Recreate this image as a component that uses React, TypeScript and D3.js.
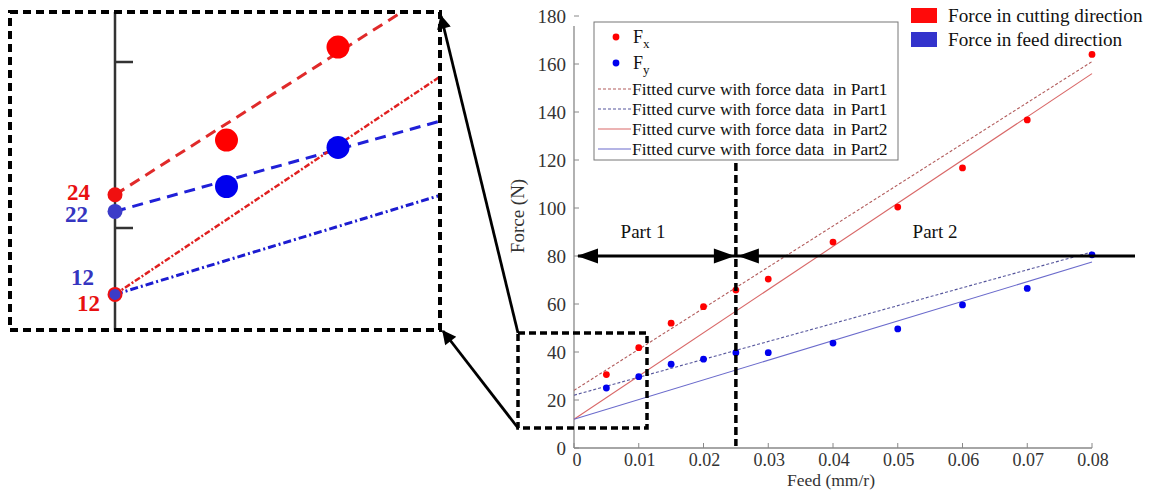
import React from 'react';
import * as d3 from 'd3';

// measured forces
const feed = [0.005, 0.01, 0.015, 0.02, 0.025, 0.03, 0.04, 0.05, 0.06, 0.07, 0.08];
const forceX = [30.6, 41.8, 52, 58.9, 65.8, 70.4, 85.8, 100.4, 116.7, 136.7, 164];
const forceY = [25, 29.7, 34.9, 37, 39.7, 39.7, 43.7, 49.6, 59.6, 66.5, 80.5];

// fitted lines (end points)
const fitFeed = [0, 0.08];
const fitFxPart1 = [24, 161];
const fitFyPart1 = [22, 81.7];
const fitFxPart2 = [12, 156];
const fitFyPart2 = [12, 77.5];

const xTicks = [0, 0.01, 0.02, 0.03, 0.04, 0.05, 0.06, 0.07, 0.08];
const yTicks = [0, 20, 40, 60, 80, 100, 120, 140, 160, 180];
const insetTicks = [20, 40];
const partSplit = 0.025;
const partLevel = 80;

const interceptValues = [24, 22, 12];
const interceptLabels = ['24', '22', '12', '12'];

const legendLabels = [
  'Fitted curve with force data  in Part1',
  'Fitted curve with force data  in Part1',
  'Fitted curve with force data  in Part2',
  'Fitted curve with force data  in Part2',
];
const cornerLegend = ['Force in cutting direction', 'Force in feed direction'];

const FONT = '"Liberation Serif", "Times New Roman", serif';
const RED = '#ff0000';
const BLUE = '#0000ee';

const x = d3.scaleLinear().domain([0, 0.08]).range([574, 1092]);
const y = d3.scaleLinear().domain([0, 180]).range([448, 16]);

// magnified view
const xi = d3.scaleLinear().domain([0, 0.01]).range([115, 338]);
const yi = d3.scaleLinear().domain([20, 40]).range([228, 62]);

const fitLine = (vals: number[], sx: any, sy: any) =>
  d3.line<number>().x((d) => sx(d)).y((d, i) => sy(vals[i]))(fitFeed) || '';

const mainFits = [
  { vals: fitFxPart1, color: '#b25c5c', dash: '3,2' },
  { vals: fitFyPart1, color: '#55559c', dash: '3,2' },
  { vals: fitFxPart2, color: '#d96868', dash: null },
  { vals: fitFyPart2, color: '#6b6bcc', dash: null },
];

const insetFits = [
  { vals: fitFxPart1, color: '#e02a2a', dash: '11,7', w: 3 },
  { vals: fitFyPart1, color: '#2020d8', dash: '11,7', w: 3 },
  { vals: fitFxPart2, color: '#e02020', dash: '6,2,2,2', w: 2.5 },
  { vals: fitFyPart2, color: '#1c1cd0', dash: '8,3,2,3', w: 3 },
];

const box = { x0: 10, y0: 12, x1: 440, y1: 330 };

export default function App() {
  const arrowY = y(partLevel);
  const splitX = x(partSplit);
  const tri = (tipX: number, dir: number) =>
    `M${tipX},${arrowY} L${tipX - dir * 21},${arrowY - 7.5} L${tipX - dir * 21},${arrowY + 7.5} Z`;

  return (
    <svg width={1150} height={492} style={{ position: 'absolute', left: 0, top: 0, background: '#fff' }}
      fontFamily={FONT}>
      <defs>
        <clipPath id="insetClip">
          <rect x={box.x0} y={box.y0} width={box.x1 - box.x0} height={box.y1 - box.y0} />
        </clipPath>
        <marker id="ah" viewBox="0 0 10 10" refX="9" refY="5" markerWidth="6" markerHeight="5"
          markerUnits="strokeWidth" orient="auto">
          <path d="M0,0 L10,5 L0,10 Z" fill="#000" />
        </marker>
      </defs>

      {/* axes */}
      <line x1={x(0)} x2={x(0)} y1={26} y2={y(0)} stroke="#888" strokeWidth={1.3} />
      <line x1={x(0)} x2={x(0.08)} y1={y(0)} y2={y(0)} stroke="#888" strokeWidth={1.3} />
      {yTicks.map((t) => (
        <g key={'y' + t}>
          <line x1={x(0)} x2={x(0) + 5} y1={y(t)} y2={y(t)} stroke="#888" strokeWidth={1} />
          <text x={x(0) - 8} y={y(t)} dy="0.35em" textAnchor="end" fontSize={19} fill="#333">{t}</text>
        </g>
      ))}
      {xTicks.map((t) => (
        <g key={'x' + t}>
          <line x1={x(t)} x2={x(t)} y1={y(0)} y2={y(0) - 5} stroke="#888" strokeWidth={1} />
          <text x={x(t) + (t === 0 ? 3 : 1)} y={466} textAnchor="middle" fontSize={18} fill="#333">{t === 0 ? '0' : t.toFixed(2)}</text>
        </g>
      ))}
      <text x={831} y={486} textAnchor="middle" fontSize={17.5} fill="#333">Feed (mm/r)</text>
      <text transform="translate(524,216) rotate(-90)" textAnchor="middle" fontSize={19} fill="#333">Force (N)</text>

      {/* fitted curves */}
      {mainFits.map((f, i) => (
        <path key={'f' + i} d={fitLine(f.vals, x, y)} fill="none" stroke={f.color} strokeWidth={1.1}
          strokeDasharray={f.dash || undefined} />
      ))}

      {/* data */}
      {feed.map((f, i) => (
        <circle key={'px' + i} cx={x(f)} cy={y(forceX[i])} r={3.4} fill={RED} />
      ))}
      {feed.map((f, i) => (
        <circle key={'py' + i} cx={x(f)} cy={y(forceY[i])} r={3.4} fill={BLUE} />
      ))}

      {/* part divider */}
      <line x1={splitX} x2={splitX} y1={163} y2={446} stroke="#000" strokeWidth={3.5} strokeDasharray="8,4" />
      <line x1={578} x2={1135} y1={arrowY} y2={arrowY} stroke="#000" strokeWidth={3} />
      <path d={tri(577, -1)} fill="#000" />
      <path d={tri(splitX - 1, 1)} fill="#000" />
      <path d={tri(splitX + 2, -1)} fill="#000" />
      <text x={643} y={238} textAnchor="middle" fontSize={19} fill="#111">Part 1</text>
      <text x={935} y={238} textAnchor="middle" fontSize={19} fill="#111">Part 2</text>

      {/* legend */}
      <rect x={594} y={22} width={304} height={138} fill="#fff" stroke="#777" strokeWidth={1} />
      <circle cx={616} cy={37} r={3.4} fill={RED} />
      <text x={633} y={43} fontSize={18} fill="#111">F<tspan fontSize={13} dy={5}>x</tspan></text>
      <circle cx={616} cy={63} r={3.4} fill={BLUE} />
      <text x={633} y={69} fontSize={18} fill="#111">F<tspan fontSize={13} dy={5}>y</tspan></text>
      {legendLabels.map((l, i) => (
        <g key={'l' + i}>
          <line x1={598} x2={631} y1={89 + i * 20} y2={89 + i * 20} stroke={mainFits[i].color}
            strokeWidth={1.1} strokeDasharray={mainFits[i].dash || undefined} />
          <text x={632} y={95 + i * 20} fontSize={17.4} fill="#111" style={{ whiteSpace: 'pre' }}>{l}</text>
        </g>
      ))}

      {/* corner legend */}
      {cornerLegend.map((l, i) => (
        <g key={'c' + i}>
          <rect x={911} y={8 + i * 24} width={26} height={15} fill={i === 0 ? '#ff0a0a' : '#3333cc'} />
          <text x={948} y={22 + i * 24} fontSize={19.2} fill="#111">{l}</text>
        </g>
      ))}

      {/* zoom box */}
      <rect x={518} y={333} width={129} height={95} fill="none" stroke="#000" strokeWidth={3.5} strokeDasharray="7,4" />
      <line x1={518} y1={333} x2={441} y2={16} stroke="#000" strokeWidth={2.8} markerEnd="url(#ah)" />
      <line x1={518} y1={428} x2={443} y2={331} stroke="#000" strokeWidth={2.8} markerEnd="url(#ah)" />

      {/* magnified inset */}
      <line x1={xi(0)} x2={xi(0)} y1={box.y0} y2={box.y1} stroke="#333" strokeWidth={2.5} />
      {insetTicks.map((t) => (
        <line key={'it' + t} x1={xi(0)} x2={xi(0) + 18} y1={yi(t)} y2={yi(t)} stroke="#333" strokeWidth={2.5} />
      ))}
      <g clipPath="url(#insetClip)">
        {insetFits.map((f, i) => (
          <path key={'if' + i} d={fitLine(f.vals, xi, yi)} fill="none" stroke={f.color} strokeWidth={f.w}
            strokeDasharray={f.dash} />
        ))}
        {feed.slice(0, 2).map((f, i) => (
          <circle key={'ix' + i} cx={xi(f)} cy={yi(forceX[i])} r={11.5} fill={RED} />
        ))}
        {feed.slice(0, 2).map((f, i) => (
          <circle key={'iy' + i} cx={xi(f)} cy={yi(forceY[i])} r={11.5} fill={BLUE} />
        ))}
      </g>
      <circle cx={xi(0)} cy={yi(interceptValues[0])} r={7.5} fill="#f01010" />
      <circle cx={xi(0)} cy={yi(interceptValues[1])} r={7.5} fill="#3c3cc8" />
      <circle cx={xi(0)} cy={yi(interceptValues[2])} r={6.5} fill="#3c3cc8" stroke="#f01010" strokeWidth={2} />
      <text x={90} y={yi(interceptValues[0]) - 3} dy="0.35em" textAnchor="end" fontSize={23} fontWeight="bold" fill="#e81010">{interceptLabels[0]}</text>
      <text x={88} y={yi(interceptValues[1]) + 3} dy="0.35em" textAnchor="end" fontSize={23} fontWeight="bold" fill="#3535c0">{interceptLabels[1]}</text>
      <text x={94} y={yi(interceptValues[2]) - 17} dy="0.35em" textAnchor="end" fontSize={23} fontWeight="bold" fill="#3535c0">{interceptLabels[2]}</text>
      <text x={100} y={yi(interceptValues[2]) + 9} dy="0.35em" textAnchor="end" fontSize={23} fontWeight="bold" fill="#e81010">{interceptLabels[3]}</text>
      <rect x={box.x0} y={box.y0} width={box.x1 - box.x0} height={box.y1 - box.y0} fill="none" stroke="#000"
        strokeWidth={4} strokeDasharray="8,5" />
    </svg>
  );
}
